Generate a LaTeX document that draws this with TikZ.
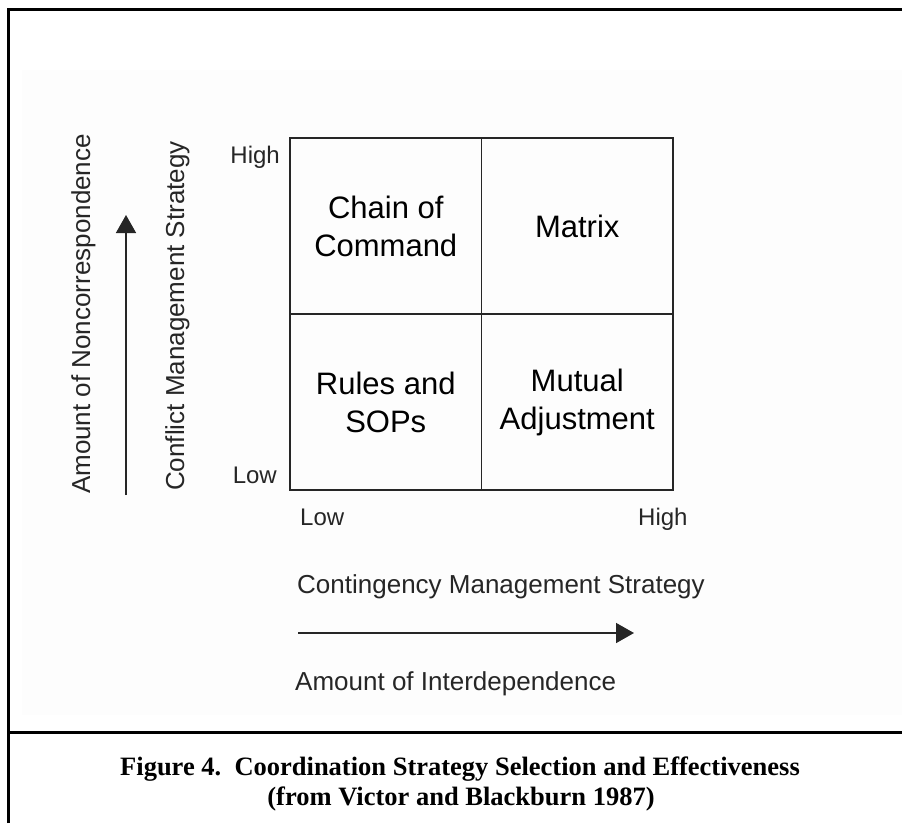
\documentclass[tikz,border=0pt]{standalone}
\usepackage{fontspec}
\setmainfont{Liberation Sans}
\newfontfamily\capfont{Liberation Serif}
\usetikzlibrary{arrows.meta}
\begin{document}
\begin{tikzpicture}[x=1pt,y=-1pt,
  frameline/.style={line width=3pt,black},
  cell/.style={draw=black!85,line width=1.6pt,minimum width=191.5pt,minimum height=176pt,inner sep=0pt,align=center,font=\fontsize{31}{38}\selectfont},
  ticklbl/.style={inner sep=0pt,font=\fontsize{24}{28}\selectfont,text=black!85},
  axislbl/.style={inner sep=0pt,font=\fontsize{26}{30}\selectfont,text=black!85},
  axisarrow/.style={line width=1.6pt,black!85,-{Triangle[length=18pt,width=20pt]}},
  caption/.style={inner sep=0pt,font=\capfont\bfseries\fontsize{26.5}{30}\selectfont}
]
\useasboundingbox (0,0) rectangle (902,823);
% faint background panel
\fill[black!0.8] (22,70) rectangle (902,715);
% frame
\draw[frameline] (8.5,823) -- (8.5,9.5) -- (902,9.5);
\draw[frameline] (8.5,732) -- (902,732);
% grid cells
\node[cell] (cc) at (385.75,226) {Chain of\\Command};
\node[cell] (mx) at (577.25,226) {Matrix};
\node[cell] (rs) at (385.75,402) {Rules and\\SOPs};
\node[cell] (ma) at (577.25,402) {Mutual\\Adjustment};
% tick labels
\node[ticklbl,anchor=base east] (yhigh) at (280,163) {High};
\node[ticklbl,anchor=base east] (ylow) at (277,483) {Low};
\node[ticklbl,anchor=base west] (xlow) at (300,525) {Low};
\node[ticklbl,anchor=base west] (xhigh) at (638,525) {High};
% axis labels
\node[axislbl,rotate=90,anchor=base] (ynon) at (90,314) {Amount of Noncorrespondence};
\node[axislbl,rotate=90,anchor=base] (ycms) at (184,316) {Conflict Management Strategy};
\node[axislbl,anchor=base west] (xcms) at (297,593) {Contingency Management Strategy};
\node[axislbl,anchor=base west] (xint) at (295,690) {Amount of Interdependence};
% arrows
\coordinate (va) at (126,495);
\coordinate (vb) at (126,215);
\draw[axisarrow] (va) -- (vb);
\coordinate (ha) at (298,633);
\coordinate (hb) at (634,633);
\draw[axisarrow] (ha) -- (hb);
% caption
\node[caption,anchor=base] (cap1) at (460,775) {Figure 4.\ \ Coordination Strategy Selection and Effectiveness};
\node[caption,anchor=base] (cap2) at (461,805) {(from Victor and Blackburn 1987)};
\end{tikzpicture}
\end{document}
